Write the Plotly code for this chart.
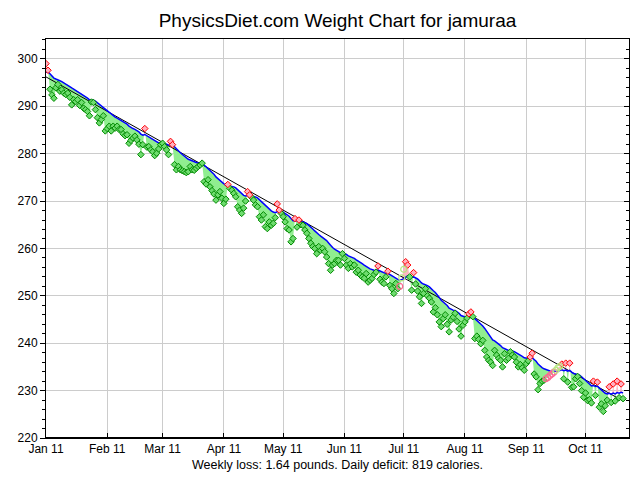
import plotly.graph_objects as go
import pandas as pd

# ---------------- data ----------------
start_date = "2011-01-01"
axis_end = "2011-10-23"
title_text = "PhysicsDiet.com Weight Chart for jamuraa"
footer_text = "Weekly loss: 1.64 pounds. Daily deficit: 819 calories."

# daily weights (pounds), one per day from Jan 1 2011
weights = [
    299.0, 297.6, 293.6, 292.4, 291.7, 293.9, 294.6, 293.2, 293.5, 292.8,
    292.5, 292.8, 291.9, 290.3, 291.4, 291.0, 291.4, 290.2, 290.8, 289.6,
    289.3, 288.9, 288.0, 290.9, 290.8, 289.3, 287.6, 286.5, 287.2, 288.0,
    284.8, 285.3, 285.8, 284.8, 285.8, 285.4, 285.8, 285.1, 285.1, 284.2,
    283.8, 284.0, 282.2, 282.8, 283.3, 283.7, 282.9, 282.0, 279.8, 281.9,
    285.3, 281.4, 281.5, 280.8, 280.4, 279.6, 280.1, 281.0, 281.9, 282.2,
    281.5, 280.8, 279.8, 282.6, 281.9, 277.7, 276.6, 277.3, 276.6, 276.4,
    276.2, 276.0, 276.2, 277.3, 276.6, 276.5, 276.9, 277.3, 277.6, 278.0,
    274.1, 273.6, 274.5, 273.0, 272.2, 271.5, 270.2, 271.3, 272.0, 270.6,
    269.5, 270.4, 273.5, 272.7, 272.3, 271.6, 270.9, 268.8, 268.1, 267.4,
    268.5, 270.0, 272.0, 271.3, 270.8, 270.2, 269.2, 268.8, 266.7, 266.0,
    267.1, 264.6, 264.2, 265.6, 264.9, 265.3, 266.5, 269.4, 268.1, 267.4,
    266.7, 265.6, 264.2, 263.9, 261.4, 262.1, 266.3, 264.5, 266.0, 265.0,
    264.9, 263.9, 263.2, 262.1, 261.1, 260.4, 260.0, 258.9, 260.4, 259.6,
    260.0, 259.3, 258.2, 256.8, 255.4, 256.5, 256.8, 257.5, 257.5, 256.5,
    258.9, 257.9, 256.5, 255.8, 256.8, 256.1, 256.5, 255.0, 255.4, 254.4,
    254.0, 253.7, 254.7, 252.9, 253.3, 253.7, 254.5, 255.0, 256.3, 253.5,
    252.9, 252.6, 254.0, 255.2, 252.2, 251.5, 250.5, 252.6, 251.5, 252.0,
    253.8, 255.6, 257.2, 256.5, 254.0, 251.2, 254.9, 252.5, 251.0, 249.8,
    248.4, 250.5, 251.5, 250.0, 249.5, 248.7, 246.6, 247.5, 246.0, 244.5,
    243.5, 245.2, 246.0, 244.0, 242.4, 244.9, 245.5, 246.3, 244.6, 243.0,
    241.5, 243.8, 244.5, 245.3, 246.2, 246.6, 245.6, 241.0, 241.5, 240.8,
    239.9, 240.6, 238.5, 237.1, 236.4, 236.0, 235.3, 238.5, 237.5, 236.8,
    236.4, 235.0, 237.8, 236.4, 236.8, 238.2, 237.5, 237.1, 236.0, 235.0,
    235.5, 234.8, 234.3, 235.7, 236.3, 237.1, 237.9, 233.5, 232.9, 230.2,
    231.5, 232.0, 232.2, 232.5, 232.8, 233.2, 233.5, 233.9, 234.3, 234.8,
    235.1, 235.6, 232.5, 235.8, 231.8, 235.8, 230.7, 230.8, 232.5, 233.0,
    231.5, 230.0, 228.6, 229.5, 227.9, 228.1, 227.4, 232.0, 229.0, 231.8,
    226.5, 227.2, 225.6, 226.8, 228.0, 230.8, 227.5, 231.4, 227.8, 232.0,
    228.5, 231.4, 228.3,
]

# days (index into weights) drawn as circles in the reference
estimated_days = [179, 180, 181, 253, 254, 255, 256, 257, 258, 259, 260]

trend_start = 297.0        # trend value before the first weigh-in
trend_smoothing = 0.1      # exponential smoothing of the trend line
regression_start = 296.2   # straight fit line at the left edge
regression_end = 227.8     # straight fit line at the last day

# ---------------- derived values ----------------
base = pd.Timestamp(start_date)


def day_x(d):
    return (base + pd.Timedelta(days=float(d))).isoformat()


n = len(weights)
dates = [day_x(i) for i in range(n)]
trend = []
t = trend_start
for w in weights:
    t = t + trend_smoothing * (w - t)
    trend.append(t)

below_x, below_y, above_x, above_y = [], [], [], []


def add_poly(points, below):
    xs = below_x if below else above_x
    ys = below_y if below else above_y
    for d, v in points:
        xs.append(day_x(d))
        ys.append(v)
    xs.append(None)
    ys.append(None)


for i in range(n - 1):
    e0 = weights[i] - trend[i]
    e1 = weights[i + 1] - trend[i + 1]
    if e0 * e1 >= 0:
        add_poly([(i, weights[i]), (i + 1, weights[i + 1]),
                  (i + 1, trend[i + 1]), (i, trend[i])], (e0 + e1) <= 0)
    else:
        f = e0 / (e0 - e1)
        yc = trend[i] + f * (trend[i + 1] - trend[i])
        add_poly([(i, weights[i]), (i + f, yc), (i, trend[i])], e0 < 0)
        add_poly([(i + f, yc), (i + 1, weights[i + 1]), (i + 1, trend[i + 1])], e1 < 0)

groups = {"gd": ([], []), "rd": ([], []), "gc": ([], []), "rc": ([], [])}
for i, w in enumerate(weights):
    key = ("r" if w > trend[i] else "g") + ("c" if i in estimated_days else "d")
    groups[key][0].append(dates[i])
    groups[key][1].append(w)

GREEN_FILL = "#90EE90"
PINK_FILL = "#FFB6C1"
FONT = "Liberation Sans, Arial, Helvetica, sans-serif"

fig = go.Figure()
fig.add_trace(go.Scatter(x=below_x, y=below_y, mode="lines", fill="toself",
                         fillcolor=GREEN_FILL, line=dict(width=0, color=GREEN_FILL),
                         hoverinfo="skip", showlegend=False))
fig.add_trace(go.Scatter(x=above_x, y=above_y, mode="lines", fill="toself",
                         fillcolor=PINK_FILL, line=dict(width=0, color=PINK_FILL),
                         hoverinfo="skip", showlegend=False))
fig.add_trace(go.Scatter(x=[dates[0], dates[-1]], y=[regression_start, regression_end],
                         mode="lines", line=dict(color="black", width=1),
                         showlegend=False))
fig.add_trace(go.Scatter(x=dates, y=trend, mode="lines",
                         line=dict(color="#0000FF", width=1.5), showlegend=False))
fig.add_trace(go.Scatter(x=groups["gd"][0], y=groups["gd"][1], mode="markers",
                         marker=dict(symbol="diamond", size=5, color="#6FDC6F",
                                     line=dict(color="#008A00", width=1)),
                         showlegend=False))
fig.add_trace(go.Scatter(x=groups["rd"][0], y=groups["rd"][1], mode="markers",
                         marker=dict(symbol="diamond", size=5, color="#FFB0C0",
                                     line=dict(color="#FF0000", width=1)),
                         showlegend=False))
fig.add_trace(go.Scatter(x=groups["gc"][0], y=groups["gc"][1], mode="markers",
                         marker=dict(symbol="circle-open", size=6,
                                     line=dict(color="#008A00", width=1.2)),
                         showlegend=False))
fig.add_trace(go.Scatter(x=groups["rc"][0], y=groups["rc"][1], mode="markers",
                         marker=dict(symbol="circle-open", size=6,
                                     line=dict(color="#FF0000", width=1.2)),
                         showlegend=False))
# invisible trace for right-hand tick axis
fig.add_trace(go.Scatter(x=[dates[0]], y=[260], yaxis="y2", mode="markers",
                         marker=dict(opacity=0), hoverinfo="skip", showlegend=False))

# the page body has an 8px margin, so the figure is sized 632x472
W, H = 632, 472
ML, MR, MT, MB = 25, 10, 31, 42
plot_h = H - MT - MB
yrange = [220, 304.2]
fig.update_layout(
    width=W, height=H,
    margin=dict(l=ML, r=MR, t=MT, b=MB),
    paper_bgcolor="white", plot_bgcolor="white",
    font=dict(family=FONT, color="black", size=12),
    title=dict(text=title_text, x=0.5, xanchor="center", xref="paper",
               y=1 - 12 / H, yref="container", yanchor="middle",
               font=dict(size=19, family=FONT, color="black")),
    xaxis=dict(type="date", range=[start_date, axis_end],
               tick0=start_date, dtick="M1", tickformat="%b %y",
               ticks="inside", ticklen=5, tickcolor="black",
               showgrid=True, gridcolor="#CCCCCC", gridwidth=1,
               showline=True, linecolor="black", linewidth=1, mirror=True,
               zeroline=False, tickfont=dict(size=12)),
    yaxis=dict(range=yrange, dtick=10, tick0=220,
               ticks="outside", ticklen=5, tickcolor="black",
               minor=dict(dtick=2, ticks="outside", ticklen=3, tickcolor="black",
                          showgrid=False),
               showgrid=True, gridcolor="#CCCCCC", gridwidth=1,
               showline=True, linecolor="black", linewidth=1, mirror=True,
               zeroline=False, tickfont=dict(size=12)),
    yaxis2=dict(range=yrange, overlaying="y", side="right", dtick=10, tick0=220,
                ticks="inside", ticklen=5, tickcolor="black",
                minor=dict(dtick=2, ticks="inside", ticklen=3, tickcolor="black",
                           showgrid=False),
                showticklabels=False, showgrid=False, showline=False,
                zeroline=False),
    shapes=[dict(type="line", xref="paper", x0=0, x1=1, yref="paper", y0=0, y1=0,
                 line=dict(color="black", width=2), layer="above")],
    annotations=[dict(text=footer_text, xref="paper", yref="paper",
                      x=0.5, y=-(457 - (H - MB)) / plot_h, xanchor="center",
                      yanchor="middle", showarrow=False,
                      font=dict(size=12.5, family=FONT, color="black"))],
)

fig.write_html("out.html")
